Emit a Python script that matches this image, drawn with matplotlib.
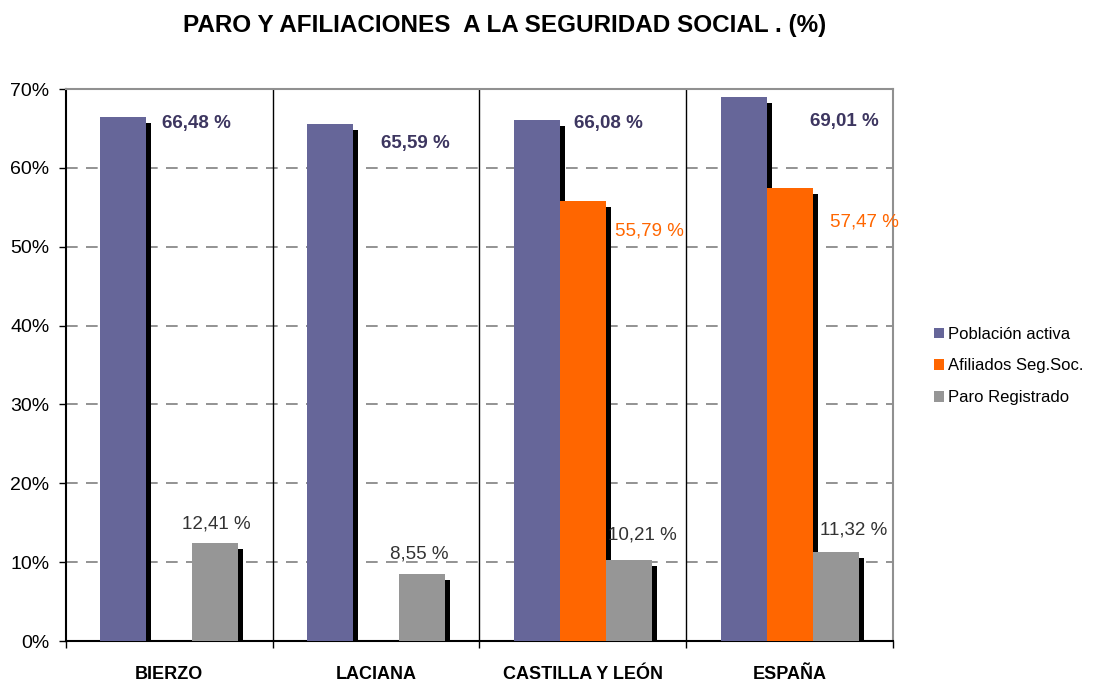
import numpy as np
import matplotlib
matplotlib.use('Agg')
import matplotlib.pyplot as plt

plt.rcParams['font.family'] = ['Liberation Sans', 'DejaVu Sans']

categories = ['BIERZO', 'LACIANA', 'CASTILLA Y LEÓN', 'ESPAÑA']
series_names = ['Población activa', 'Afiliados Seg.Soc.', 'Paro Registrado']
poblacion = [66.48, 65.59, 66.08, 69.01]
afiliados = [np.nan, np.nan, 55.79, 57.47]
paro = [12.41, 8.55, 10.21, 11.32]
colors = ['#666699', '#FF6600', '#969696']
label_colors = ['#3d3660', '#FF6600', '#333333']

# hand placed label positions (offset from group centre, y in %)
lab_pos = {
    0: [(0.13, 65.6), (0.19, 63.1), (0.125, 65.6), (0.265, 65.9)],
    1: [None, None, (0.32, 52.0), (0.36, 53.1)],
    2: [(0.225, 14.9), (0.21, 11.0), (0.29, 13.4), (0.31, 14.1)],
}

fig = plt.figure(figsize=(10.95, 6.84), dpi=100)
ax = fig.add_axes([66 / 1095, 43 / 684, 827 / 1095, 552 / 684])

x = np.arange(len(categories))
w = 0.2225
dx = 5 / 206.75
dy = 6 / 552 * 70

for i, vals in enumerate([poblacion, afiliados, paro]):
    vals = np.array(vals, dtype=float)
    pos = x + (i - 1) * w
    ok = ~np.isnan(vals)
    ax.bar(pos[ok] + dx, vals[ok] - dy, width=w, color='black', zorder=2)
    ax.bar(pos[ok], vals[ok], width=w, color=colors[i], zorder=3, label=series_names[i])
    for j, v in enumerate(vals):
        p = lab_pos[i][j]
        if p is None or np.isnan(v):
            continue
        txt = ('%.2f %%' % v).replace('.', ',')
        ax.text(x[j] + p[0], p[1], txt, ha='center', va='center', fontsize=13.5,
                color=label_colors[i], fontweight='bold' if i == 0 else 'normal', zorder=4)

ax.set_xlim(-0.5, 3.5)
ax.set_ylim(0, 70)
ax.set_yticks(np.arange(0, 71, 10))
ax.set_yticklabels(['%d%%' % t for t in range(0, 71, 10)], fontsize=14)
ax.yaxis.grid(True, linestyle=(0, (7, 5)), color='#808080', linewidth=1.2, zorder=0)
ax.set_axisbelow(True)

# separators between groups
for s in [0.5, 1.5, 2.5]:
    ax.axvline(s, color='black', linewidth=1, zorder=1)
ax.set_xticks([-0.5, 0.5, 1.5, 2.5, 3.5])
ax.set_xticklabels([])
ax.set_xticks(x, minor=True)
ax.set_xticklabels(categories, minor=True, fontsize=13, fontweight='bold')
ax.tick_params(axis='x', which='major', length=5, width=1, direction='out')
ax.tick_params(axis='x', which='minor', length=0, pad=18)
ax.tick_params(axis='y', length=5, width=1, pad=7)

ax.spines['left'].set_color('black')
ax.spines['bottom'].set_color('black')
ax.spines['left'].set_linewidth(1.5)
ax.spines['bottom'].set_linewidth(1.5)
ax.spines['top'].set_color('#909090')
ax.spines['right'].set_color('#909090')
ax.spines['top'].set_linewidth(1.5)
ax.spines['right'].set_linewidth(1.5)

fig.text(0.461, 0.962, 'PARO Y AFILIACIONES  A LA SEGURIDAD SOCIAL . (%)', ha='center', va='center',
         fontsize=17.5, fontweight='bold')

handles, labels = ax.get_legend_handles_labels()
fig.legend(handles, labels, loc='center left', bbox_to_anchor=(0.839, 0.465), frameon=False,
           fontsize=12, handlelength=0.6, handleheight=0.6, handletextpad=0.25, labelspacing=1.0)

fig.savefig('out.png', dpi=100)
